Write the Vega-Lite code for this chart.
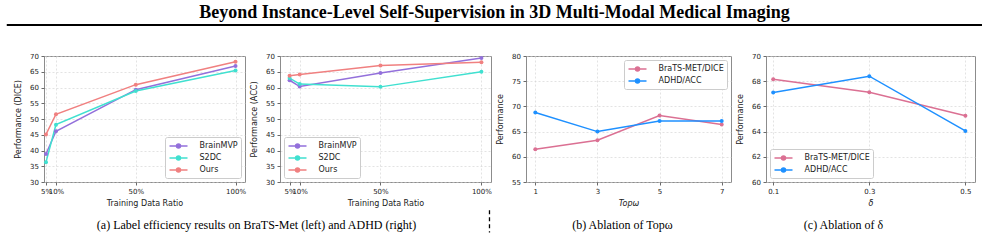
{
  "$schema": "https://vega.github.io/schema/vega-lite/v6.json",
  "background": "white",
  "padding": {"left": 5, "top": 4, "right": 5, "bottom": 5},
  "datasets": {
    "dice": [
      {"ratio": 5, "method": "BrainMVP", "value": 38.9},
      {"ratio": 10, "method": "BrainMVP", "value": 46.1},
      {"ratio": 50, "method": "BrainMVP", "value": 59.3},
      {"ratio": 100, "method": "BrainMVP", "value": 66.8},
      {"ratio": 5, "method": "S2DC", "value": 36.3},
      {"ratio": 10, "method": "S2DC", "value": 48.2},
      {"ratio": 50, "method": "S2DC", "value": 58.9},
      {"ratio": 100, "method": "S2DC", "value": 65.4},
      {"ratio": 5, "method": "Ours", "value": 45.1},
      {"ratio": 10, "method": "Ours", "value": 51.5},
      {"ratio": 50, "method": "Ours", "value": 60.9},
      {"ratio": 100, "method": "Ours", "value": 68.2}
    ],
    "acc": [
      {"ratio": 5, "method": "BrainMVP", "value": 62.3},
      {"ratio": 10, "method": "BrainMVP", "value": 60.3},
      {"ratio": 50, "method": "BrainMVP", "value": 64.6},
      {"ratio": 100, "method": "BrainMVP", "value": 69.4},
      {"ratio": 5, "method": "S2DC", "value": 63.0},
      {"ratio": 10, "method": "S2DC", "value": 61.1},
      {"ratio": 50, "method": "S2DC", "value": 60.2},
      {"ratio": 100, "method": "S2DC", "value": 65.0},
      {"ratio": 5, "method": "Ours", "value": 63.7},
      {"ratio": 10, "method": "Ours", "value": 64.1},
      {"ratio": 50, "method": "Ours", "value": 67.0},
      {"ratio": 100, "method": "Ours", "value": 68.0}
    ],
    "top": [
      {"k": 1, "task": "BraTS-MET/DICE", "value": 61.5},
      {"k": 3, "task": "BraTS-MET/DICE", "value": 63.3},
      {"k": 5, "task": "BraTS-MET/DICE", "value": 68.2},
      {"k": 7, "task": "BraTS-MET/DICE", "value": 66.4},
      {"k": 1, "task": "ADHD/ACC", "value": 68.8},
      {"k": 3, "task": "ADHD/ACC", "value": 65.0},
      {"k": 5, "task": "ADHD/ACC", "value": 67.1},
      {"k": 7, "task": "ADHD/ACC", "value": 67.1}
    ],
    "delta": [
      {"d": 0.1, "task": "BraTS-MET/DICE", "value": 68.15},
      {"d": 0.3, "task": "BraTS-MET/DICE", "value": 67.12},
      {"d": 0.5, "task": "BraTS-MET/DICE", "value": 65.25},
      {"d": 0.1, "task": "ADHD/ACC", "value": 67.1},
      {"d": 0.3, "task": "ADHD/ACC", "value": 68.4},
      {"d": 0.5, "task": "ADHD/ACC", "value": 64.05}
    ]
  },
  "config": {
    "font": "DejaVu Sans",
    "view": {"stroke": "#8c8c8c", "strokeWidth": 1},
    "axis": {
      "domain": false,
      "labelOverlap": false,
      "labelFont": "DejaVu Sans", "labelFontSize": 7, "labelColor": "#222",
      "titleFont": "DejaVu Sans", "titleFontSize": 8, "titleFontWeight": "normal", "titleColor": "#222",
      "tickColor": "#444", "tickSize": 3, "tickWidth": 0.8,
      "gridColor": "#d0d0d0", "gridDash": [2, 2], "gridWidth": 0.6,
      "labelPadding": 2.5
    },
    "axisX": {"titlePadding": 5},
    "axisY": {"titlePadding": 7},
    "legend": {
      "labelFont": "DejaVu Sans", "labelFontSize": 8, "labelColor": "#222",
      "strokeColor": "#cccccc", "fillColor": "white", "cornerRadius": 2,
      "padding": 3, "rowPadding": 1, "symbolStrokeWidth": 1.5, "symbolSize": 100,
      "symbolOffset": 4.5, "labelOffset": 15, "offset": 4,
      "symbolType": "M-1.8,0H1.8M-0.4,0A0.4,0.4 0 1,0 0.4,0A0.4,0.4 0 1,0 -0.4,0Z"
    }
  },
  "bounds": "flush",
  "spacing": 30,
  "resolve": {"scale": {"color": "independent"}, "legend": {"color": "independent"}},
  "vconcat": [
    {
      "width": 931,
      "height": 1,
      "data": {"values": [{}]},
      "view": {"stroke": null},
      "title": {
        "text": "Beyond Instance-Level Self-Supervision in 3D Multi-Modal Medical Imaging",
        "font": "Liberation Serif", "fontSize": 18, "fontWeight": "bold", "color": "black",
        "anchor": "middle", "dx": -15, "offset": 2
      },
      "mark": {"type": "rule", "color": "black", "strokeWidth": 2},
      "encoding": {
        "x": {"datum": -0.04, "scale": {"domain": [0, 1]}, "axis": null},
        "x2": {"datum": 1.0075},
        "y": {"datum": 1, "scale": {"domain": [0, 1]}, "axis": null}
      }
    },
    {
      "hconcat": [
        {
          "width": 201,
          "height": 126,
          "data": {"name": "dice"},
          "title": {
            "text": "(a) Label efficiency results on BraTS-Met (left) and ADHD (right)",
            "orient": "bottom", "anchor": "middle", "dx": 112, "offset": 12,
            "font": "Liberation Serif", "fontSize": 12, "fontWeight": "normal", "color": "black"
          },
          "mark": {"type": "line", "point": {"filled": true, "size": 16}, "strokeWidth": 1.5},
          "encoding": {
            "x": {"field": "ratio", "type": "quantitative",
              "scale": {"domain": [4, 104.75], "nice": false, "zero": false},
              "axis": {"values": [5, 10, 50, 100], "labelExpr": "datum.value + '%'", "title": "Training Data Ratio"}},
            "y": {"field": "value", "type": "quantitative",
              "scale": {"domain": [30, 70], "nice": false, "zero": false},
              "axis": {"values": [30, 35, 40, 45, 50, 55, 60, 65, 70], "title": "Performance (DICE)"}},
            "color": {"field": "method", "type": "nominal",
              "scale": {"domain": ["BrainMVP", "S2DC", "Ours"], "range": ["#9370DB", "#40E0D0", "#F08080"]},
              "legend": {"title": null, "orient": "bottom-right",
                "encode": {"symbols": {"update": {"fill": {"signal": "datum.value === 'BrainMVP' ? '#9370DB' : datum.value === 'S2DC' ? '#40E0D0' : '#F08080'"}}}}}}
          }
        },
        {
          "width": 211,
          "height": 126,
          "layer": [
            {
              "data": {"name": "acc"},
              "mark": {"type": "line", "point": {"filled": true, "size": 16}, "strokeWidth": 1.5},
              "encoding": {
                "x": {"field": "ratio", "type": "quantitative",
                  "scale": {"domain": [0.25, 104.75], "nice": false, "zero": false},
                  "axis": {"values": [5, 10, 50, 100], "labelExpr": "datum.value + '%'", "title": "Training Data Ratio"}},
                "y": {"field": "value", "type": "quantitative",
                  "scale": {"domain": [30, 70], "nice": false, "zero": false},
                  "axis": {"values": [30, 35, 40, 45, 50, 55, 60, 65, 70], "title": "Performance (ACC)"}},
                "color": {"field": "method", "type": "nominal",
                  "scale": {"domain": ["BrainMVP", "S2DC", "Ours"], "range": ["#9370DB", "#40E0D0", "#F08080"]},
                  "legend": {"title": null, "orient": "bottom-left",
                    "encode": {"symbols": {"update": {"fill": {"signal": "datum.value === 'BrainMVP' ? '#9370DB' : datum.value === 'S2DC' ? '#40E0D0' : '#F08080'"}}}}}}
              }
            },
            {
              "data": {"values": [{}]},
              "mark": {"type": "rule", "color": "black", "strokeWidth": 1.3, "strokeDash": [4, 3]},
              "encoding": {
                "x": {"datum": 104,
                  "axis": {"values": [5, 10, 50, 100], "labelExpr": "datum.value + '%'", "title": "Training Data Ratio"}},
                "y": {"datum": 21,
                  "axis": {"values": [30, 35, 40, 45, 50, 55, 60, 65, 70], "title": "Performance (ACC)"}},
                "y2": {"datum": 14}
              }
            }
          ]
        },
        {
          "width": 205,
          "height": 126,
          "data": {"name": "top"},
          "title": {
            "text": "(b)  Ablation of Topω",
            "orient": "bottom", "anchor": "middle", "dx": -6, "offset": 12,
            "font": "Liberation Serif", "fontSize": 12, "fontWeight": "normal", "color": "black"
          },
          "mark": {"type": "line", "point": {"filled": true, "size": 16}, "strokeWidth": 1.5},
          "encoding": {
            "x": {"field": "k", "type": "quantitative",
              "scale": {"domain": [0.7, 7.3], "nice": false, "zero": false},
              "axis": {"values": [1, 3, 5, 7], "title": "Topω", "titleFontStyle": "italic"}},
            "y": {"field": "value", "type": "quantitative",
              "scale": {"domain": [55, 80], "nice": false, "zero": false},
              "axis": {"values": [55, 60, 65, 70, 75, 80], "title": "Performance"}},
            "color": {"field": "task", "type": "nominal",
              "scale": {"domain": ["BraTS-MET/DICE", "ADHD/ACC"], "range": ["#DB7093", "#1E90FF"]},
              "legend": {"title": null, "orient": "top-right",
                "encode": {"symbols": {"update": {"fill": {"signal": "datum.value === 'ADHD/ACC' ? '#1E90FF' : '#DB7093'"}}}}}}
          }
        },
        {
          "width": 209,
          "height": 126,
          "data": {"name": "delta"},
          "title": {
            "text": "(c) Ablation of  δ",
            "orient": "bottom", "anchor": "middle", "dx": -27, "offset": 12,
            "font": "Liberation Serif", "fontSize": 12, "fontWeight": "normal", "color": "black"
          },
          "mark": {"type": "line", "point": {"filled": true, "size": 16}, "strokeWidth": 1.5},
          "encoding": {
            "x": {"field": "d", "type": "quantitative",
              "scale": {"domain": [0.085, 0.52], "nice": false, "zero": false},
              "axis": {"values": [0.1, 0.3, 0.5], "format": ".1f", "title": "δ", "titleFontStyle": "italic"}},
            "y": {"field": "value", "type": "quantitative",
              "scale": {"domain": [60, 70], "nice": false, "zero": false},
              "axis": {"values": [60, 62, 64, 66, 68, 70], "title": "Performance"}},
            "color": {"field": "task", "type": "nominal",
              "scale": {"domain": ["BraTS-MET/DICE", "ADHD/ACC"], "range": ["#DB7093", "#1E90FF"]},
              "legend": {"title": null, "orient": "bottom-left",
                "encode": {"symbols": {"update": {"fill": {"signal": "datum.value === 'ADHD/ACC' ? '#1E90FF' : '#DB7093'"}}}}}}
          }
        }
      ],
      "spacing": 35,
      "bounds": "flush",
      "resolve": {"scale": {"color": "independent"}, "legend": {"color": "independent"}}
    }
  ]
}
